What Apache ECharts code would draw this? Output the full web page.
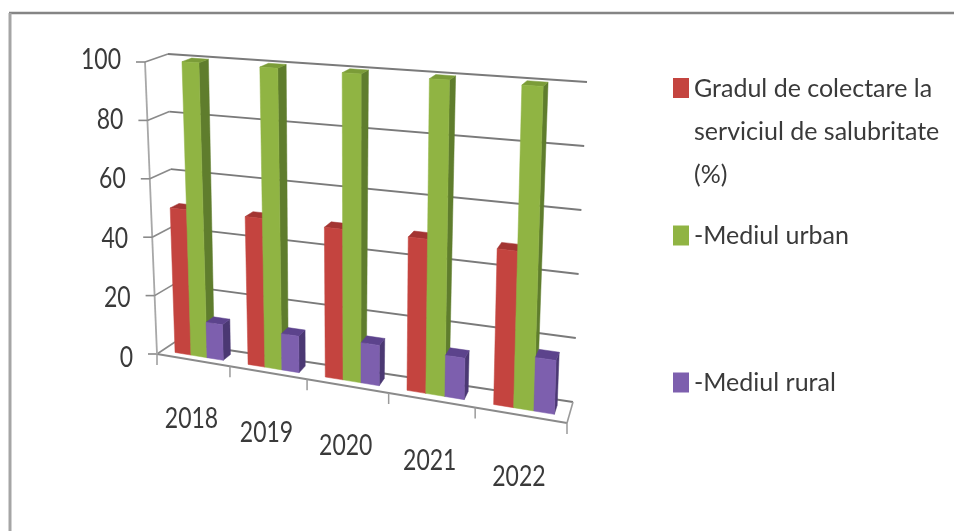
<!DOCTYPE html>
<html><head><meta charset="utf-8">
<style>html,body{margin:0;padding:0;background:#fff}#c{width:954px;height:531px}</style>
<script src="https://cdn.jsdelivr.net/npm/echarts@6/dist/echarts.min.js"></script>
</head><body><div id="c"></div>
<script>
const categories = ['2018','2019','2020','2021','2022'];
const yTicks = [0,20,40,60,80,100];
const nameTotal = 'Gradul de colectare la\nserviciul de salubritate\n(%)';
const nameUrban = '-Mediul urban';
const nameRural = '-Mediul rural';
const totalValues = [49.5,49.5,49,49,48.5];
const urbanValues = [100,100,100,100,100];
const ruralValues = [12,12,13,13,16.5];

// view: perspective of the 3-D box (rendered from the hidden grid's coordinates)
const GRID = {left:157, top:62, width:410, height:292};
const FRONT = {b0:[157,354], b1:[567,423], t0:[145,62], t1:[577,92]};
const BACK  = {b0:[175,342], b1:[573,402], t0:[168,54], t1:[587,82]};
const PERSP = 0.866, DEPTH_FRONT = 0.3, DEPTH_BACK = 0.74;
const lerp=(a,b,t)=>a+(b-a)*t;
function proj(px,py,d){
  const u=(px-GRID.left)/GRID.width, v=(GRID.top+GRID.height-py)/GRID.height;
  const t=PERSP*u/(1+(PERSP-1)*u);
  const pt=(P)=>[0,1].map(i=>lerp(lerp(P.b0[i],P.b1[i],t),lerp(P.t0[i],P.t1[i],t),v));
  const f=pt(FRONT), b=pt(BACK);
  return [lerp(f[0],b[0],d),lerp(f[1],b[1],d)];
}
const poly=(points,fill)=>({type:'polygon',shape:{points},style:{fill,stroke:fill,lineWidth:0.5}});
const line=(a,b,stroke,w)=>({type:'line',shape:{x1:a[0],y1:a[1],x2:b[0],y2:b[1]},style:{stroke,lineWidth:w}});
const label=(x,y,text,align)=>({type:'text',x,y,scaleY:1.27,style:{text,x:0,y:0,align,verticalAlign:'middle',fill:'#3a3a3a',font:'23px Lato'}});

function barRenderer(slot,front,side,top){
  return function(params,api){
    const c=api.coord([api.value(0),api.value(1)]), base=api.coord([api.value(0),0]);
    const bw=api.size([1,0])[0]*2/9;
    const x0=c[0]+(slot-1.5)*bw+1, x1=x0+bw, yt=c[1], yb=base[1];
    const P=(x,y,d)=>proj(x,y,d), a=DEPTH_FRONT, b=DEPTH_BACK;
    return {type:'group',children:[
      poly([P(x1,yb,a),P(x1,yb,b),P(x1,yt,b),P(x1,yt,a)],side),
      poly([P(x0,yt,a),P(x1,yt,a),P(x1,yt,b),P(x0,yt,b)],top),
      poly([P(x0,yb,a),P(x1,yb,a),P(x1,yt,a),P(x0,yt,a)],front)
    ]};
  };
}
function wallRenderer(params,api){
  const p=api.coord([0,api.value(1)]), xl=GRID.left, xr=GRID.left+GRID.width, y=p[1];
  const A=proj(xl,y,0), Bk=proj(xl,y,1), R=proj(xr,y,1), v=api.value(1);
  const kids=[
    line(A,Bk,'#8a8a8a',1.6),
    line(Bk,R,'#7a7a7a',1.8),
    line([A[0]-9,A[1]],A,'#8a8a8a',1.6),
    label(A[0]-24,A[1]+3.5-5.5*v/100,String(v),'right')
  ];
  if(v===0){
    const RF=proj(xr,y,0);
    kids.push(line(A,RF,'#8a8a8a',1.8),line(RF,R,'#9a9a9a',1.6));
    const top=proj(xl,GRID.top,0);
    kids.push(line(A,top,'#a8a8a8',1.8));
  }
  return {type:'group',children:kids};
}
function catRenderer(params,api){
  const i=api.value(0), c=api.coord([i,0]), band=api.size([1,0])[0];
  const edge=(x)=>{const p=proj(x,c[1],0);return line(p,[p[0],p[1]+11],'#9a9a9a',1.5);};
  const kids=[edge(c[0]-band/2)];
  if(i===categories.length-1)kids.push(edge(c[0]+band/2));
  const m=proj(c[0],c[1],0), t=(i+0.5)/categories.length;
  kids.push(label(m[0]-1.5,m[1]+58.5+3*t,categories[i],'center'));
  return {type:'group',children:kids};
}
const pairs=(vals)=>vals.map((v,i)=>[i,v]);
const common={type:'custom',coordinateSystem:'cartesian2d',encode:{x:0,y:1},silent:true,animation:false,clip:false};
const textStyle={color:'#3a3a3a',fontFamily:'Lato',fontSize:25};

const chart=echarts.init(document.getElementById('c'),null,{renderer:'canvas'});
chart.setOption({
  animation:false,backgroundColor:'#fff',
  grid:{left:GRID.left,top:GRID.top,width:GRID.width,height:GRID.height},
  xAxis:{type:'category',data:categories,show:false},
  yAxis:{type:'value',min:0,max:100,interval:20,show:false},
  legend:[
    {data:[nameTotal],left:673,top:67,padding:0,itemWidth:16,itemHeight:129,
     icon:'path://M0 11H16V31H0Z M0 0L0 0 M16 129L16 129',
     textStyle:{...textStyle,lineHeight:43},selectedMode:false},
    {data:[nameUrban],left:673,top:223,padding:0,itemWidth:16,itemHeight:20,icon:'rect',
     textStyle:{...textStyle,lineHeight:20},selectedMode:false},
    {data:[nameRural],left:673,top:370,padding:0,itemWidth:16,itemHeight:20,icon:'rect',
     textStyle:{...textStyle,lineHeight:20},selectedMode:false}
  ],
  graphic:[
    {type:'line',shape:{x1:9,y1:13,x2:954,y2:13},style:{stroke:'#858585',lineWidth:2.5}},
    {type:'line',shape:{x1:10,y1:13,x2:10,y2:531},style:{stroke:'#a5a5a5',lineWidth:3}}
  ],
  series:[
    {...common,data:yTicks.map(v=>[0,v]),renderItem:wallRenderer,z:1},
    {...common,data:categories.map((c,i)=>[i,0]),renderItem:catRenderer,z:1},
    {...common,name:nameTotal,data:pairs(totalValues),itemStyle:{color:'#c4443f'},z:2,renderItem:barRenderer(0,'#c4443f','#8c2f2c','#a33532')},
    {...common,name:nameUrban,data:pairs(urbanValues),itemStyle:{color:'#90b443'},z:3,renderItem:barRenderer(1,'#90b443','#5f7d2d','#7b9c38')},
    {...common,name:nameRural,data:pairs(ruralValues),itemStyle:{color:'#7d5fae'},z:4,renderItem:barRenderer(2,'#7d5fae','#4b3873','#5c438c')}
  ]
});
</script></body></html>
